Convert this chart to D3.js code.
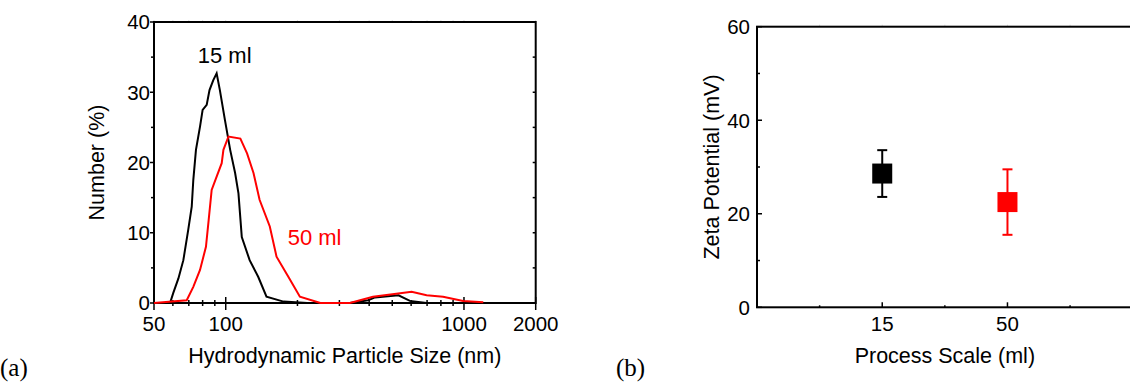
<!DOCTYPE html>
<html>
<head>
<meta charset="utf-8">
<script src="https://cdn.jsdelivr.net/npm/d3@7"></script>
<style>
  body { margin: 0; background: #fff; }
  svg { display: block; font-family: "Liberation Sans", Arial, sans-serif; }
</style>
</head>
<body>
<svg id="chart" width="1130" height="383"></svg>
<script>
// panel (a): size distribution
var size15 = [50, 58.4, 60.2, 63.3, 66.4, 69.6, 72, 73.1, 75, 78, 80, 83.2, 85.5, 88.6, 91.6, 94.5, 99.3, 104.4, 109.5, 113.1, 116.8, 126, 137, 148.3, 174.8, 220, 332, 396, 423, 531, 593, 697];
var number15 = [0, 0, 1.4, 3.5, 6.1, 10.4, 13.7, 17.5, 21.8, 25.1, 27.5, 28.2, 30.3, 31.7, 32.7, 30.3, 26.0, 21.8, 18.5, 15.6, 9.4, 6.1, 3.7, 0.9, 0.2, 0, 0, 0.4, 0.8, 1.1, 0.3, 0];
var size50 = [50, 68.6, 73.1, 78, 82.6, 84.8, 87.3, 91.6, 96.2, 97.8, 102.7, 115.2, 122.9, 130.8, 138.7, 153.1, 163.4, 183.4, 204.8, 249.6, 332, 415, 603, 697, 817, 992, 1205];
var number50 = [0, 0.4, 2.3, 4.7, 8.0, 11.8, 16.1, 18.0, 19.9, 21.8, 23.7, 23.4, 21.3, 18.5, 14.7, 10.9, 6.6, 3.7, 0.9, 0, 0, 0.9, 1.6, 1.1, 0.9, 0.3, 0.1];
var sizeTicks = [50, 100, 1000, 2000];
var sizeMinor = [60, 70, 80, 90, 200, 300, 400, 500, 600, 700, 800, 900];
var numberTicks = [0, 10, 20, 30, 40];

// panel (b): zeta potential
var scales = ["15", "50"];
var zeta = [28.6, 22.5];
var zetaErr = [5.0, 7.0];
var zetaTicks = [0, 20, 40, 60];
var colors = ["#000000", "#ff0000"];

var svg = d3.select("#chart");

// ---------- panel (a) ----------
var xa = d3.scaleLog().domain([50, 2000]).range([154, 535.7]);
var ya = d3.scaleLinear().domain([0, 40]).range([303, 22]);

var ga = svg.append("g");

// faint top ticks
ga.selectAll(".topTick").data(sizeMinor.concat(sizeTicks)).enter().append("line")
  .attr("x1", function(d) { return xa(d); }).attr("x2", function(d) { return xa(d); })
  .attr("y1", ya(40)).attr("y2", ya(40) - 2)
  .attr("stroke", "#dddddd").attr("stroke-width", 1);

// right ticks inward
ga.selectAll(".rightTick").data(d3.range(0, 41, 5)).enter().append("line")
  .attr("x1", xa(2000)).attr("x2", xa(2000) - 3)
  .attr("y1", function(d) { return ya(d); }).attr("y2", function(d) { return ya(d); })
  .attr("stroke", "#000").attr("stroke-width", 1.5);

// left ticks outward
ga.selectAll(".leftTick").data(d3.range(0, 41, 5)).enter().append("line")
  .attr("x1", xa(50)).attr("x2", function(d) { return xa(50) - (d % 10 === 0 ? 4 : 3); })
  .attr("y1", function(d) { return ya(d); }).attr("y2", function(d) { return ya(d); })
  .attr("stroke", "#000").attr("stroke-width", 1.5);

// bottom ticks crossing the axis
ga.selectAll(".botMinor").data(sizeMinor).enter().append("line")
  .attr("x1", function(d) { return xa(d); }).attr("x2", function(d) { return xa(d); })
  .attr("y1", ya(0) - 3).attr("y2", ya(0) + 3)
  .attr("stroke", "#000").attr("stroke-width", 1.5);
ga.selectAll(".botMajor").data(sizeTicks).enter().append("line")
  .attr("x1", function(d) { return xa(d); }).attr("x2", function(d) { return xa(d); })
  .attr("y1", ya(0) - 6).attr("y2", ya(0) + 7)
  .attr("stroke", "#000").attr("stroke-width", 1.5);

// frame (curves drawn over it)
ga.append("rect")
  .attr("x", xa(50)).attr("y", ya(40))
  .attr("width", xa(2000) - xa(50)).attr("height", ya(0) - ya(40))
  .attr("fill", "none").attr("stroke", "#000").attr("stroke-width", 2);

var lineA = d3.line()
  .x(function(d) { return xa(d[0]); })
  .y(function(d) { return ya(d[1]); });

ga.append("path")
  .datum(d3.zip(size15, number15))
  .attr("d", lineA)
  .attr("fill", "none").attr("stroke", colors[0]).attr("stroke-width", 2);
ga.append("path")
  .datum(d3.zip(size50, number50))
  .attr("d", lineA)
  .attr("fill", "none").attr("stroke", colors[1]).attr("stroke-width", 2);

ga.selectAll(".xLabel").data(sizeTicks).enter().append("text")
  .attr("x", function(d) { return xa(d); }).attr("y", 331)
  .attr("text-anchor", "middle").attr("font-size", "20.5px")
  .text(function(d) { return d; });
ga.selectAll(".yLabel").data(numberTicks).enter().append("text")
  .attr("x", 150).attr("y", function(d) { return ya(d); })
  .attr("dy", "0.36em")
  .attr("text-anchor", "end").attr("font-size", "20.5px")
  .text(function(d) { return d; });

ga.append("text")
  .attr("x", (xa(50) + xa(2000)) / 2).attr("y", 362.7)
  .attr("text-anchor", "middle").attr("font-size", "21.5px")
  .text("Hydrodynamic Particle Size (nm)");
ga.append("text")
  .attr("transform", "translate(104," + (ya(0) + ya(40)) / 2 + ") rotate(-90)")
  .attr("text-anchor", "middle").attr("font-size", "21.5px")
  .text("Number (%)");

// series labels
ga.append("text")
  .attr("x", xa(99)).attr("y", ya(34.1))
  .attr("text-anchor", "middle").attr("font-size", "22px").attr("fill", colors[0])
  .text("15 ml");
ga.append("text")
  .attr("x", xa(182)).attr("y", ya(8.25))
  .attr("text-anchor", "start").attr("font-size", "22px").attr("fill", colors[1])
  .text("50 ml");

svg.append("text")
  .attr("x", 0).attr("y", 376)
  .attr("font-family", "'Liberation Serif', 'Times New Roman', serif")
  .attr("font-size", "25px")
  .text("(a)");

// ---------- panel (b) ----------
var xb = d3.scalePoint().domain(scales).range([757, 1132.7]).padding(1);
var yb = d3.scaleLinear().domain([0, 60]).range([307.3, 26.7]);
var step = xb.step();

var gb = svg.append("g");

// bottom ticks: major at categories, minor halfway between
var minorB = [xb(scales[0]) - step / 2].concat(scales.map(function(s) { return xb(s) + step / 2; }));
gb.selectAll(".bMinor").data(minorB).enter().append("line")
  .attr("x1", function(d) { return d; }).attr("x2", function(d) { return d; })
  .attr("y1", yb(0)).attr("y2", yb(0) - 2)
  .attr("stroke", "#000").attr("stroke-width", 1.5);
gb.selectAll(".bMajor").data(scales).enter().append("line")
  .attr("x1", function(d) { return xb(d); }).attr("x2", function(d) { return xb(d); })
  .attr("y1", yb(0)).attr("y2", yb(0) - 5)
  .attr("stroke", "#000").attr("stroke-width", 1.5);

// left ticks inward
gb.selectAll(".lTick").data(d3.range(0, 61, 10)).enter().append("line")
  .attr("x1", 757).attr("x2", function(d) { return 757 + (d % 20 === 0 ? 5 : 3); })
  .attr("y1", function(d) { return yb(d); }).attr("y2", function(d) { return yb(d); })
  .attr("stroke", "#000").attr("stroke-width", 1.5);

// faint top ticks
gb.selectAll(".tTick").data(minorB.concat(scales.map(function(s) { return xb(s); }))).enter().append("line")
  .attr("x1", function(d) { return d; }).attr("x2", function(d) { return d; })
  .attr("y1", yb(60)).attr("y2", yb(60) - 2)
  .attr("stroke", "#dddddd").attr("stroke-width", 1);

gb.append("rect")
  .attr("x", 757).attr("y", yb(60))
  .attr("width", 1132.7 - 757).attr("height", yb(0) - yb(60))
  .attr("fill", "none").attr("stroke", "#000").attr("stroke-width", 2);

// error bars and square markers
scales.forEach(function(s, i) {
  var cx = xb(s);
  var g = gb.append("g").attr("stroke", colors[i]).attr("fill", colors[i]);
  g.append("line")
    .attr("x1", cx).attr("x2", cx)
    .attr("y1", yb(zeta[i] + zetaErr[i])).attr("y2", yb(zeta[i] - zetaErr[i]))
    .attr("stroke-width", 2);
  [zeta[i] + zetaErr[i], zeta[i] - zetaErr[i]].forEach(function(v) {
    g.append("line")
      .attr("x1", cx - 5).attr("x2", cx + 5)
      .attr("y1", yb(v)).attr("y2", yb(v))
      .attr("stroke-width", 2);
  });
  g.append("rect")
    .attr("x", cx - 10).attr("y", yb(zeta[i]) - 10)
    .attr("width", 20).attr("height", 20)
    .attr("stroke", "none");
});

gb.selectAll(".bxLabel").data(scales).enter().append("text")
  .attr("x", function(d) { return xb(d); }).attr("y", 331)
  .attr("text-anchor", "middle").attr("font-size", "20.5px")
  .text(function(d) { return d; });
gb.selectAll(".byLabel").data(zetaTicks).enter().append("text")
  .attr("x", 750).attr("y", function(d) { return yb(d); })
  .attr("dy", "0.36em")
  .attr("text-anchor", "end").attr("font-size", "20.5px")
  .text(function(d) { return d; });

gb.append("text")
  .attr("x", xb(scales[0]) + step / 2).attr("y", 362.7)
  .attr("text-anchor", "middle").attr("font-size", "21.5px")
  .text("Process Scale (ml)");
gb.append("text")
  .attr("transform", "translate(719," + (yb(0) + yb(60)) / 2 + ") rotate(-90)")
  .attr("text-anchor", "middle").attr("font-size", "21.5px")
  .text("Zeta Potential (mV)");

svg.append("text")
  .attr("x", 616).attr("y", 376)
  .attr("font-family", "'Liberation Serif', 'Times New Roman', serif")
  .attr("font-size", "25px")
  .text("(b)");
</script>
</body>
</html>
